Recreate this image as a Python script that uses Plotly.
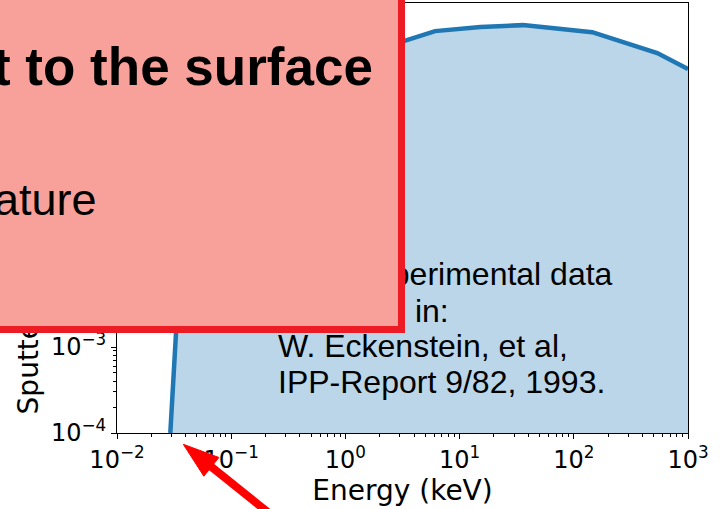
import plotly.graph_objects as go

# ---- data ----
energy_keV = [0.0293, 0.0320, 0.0330, 0.040, 0.060, 0.10, 0.30, 1.0, 3.36, 6.1, 15.2, 35.9, 145.0, 538.0, 1000.0]
yield_vals = [1.0e-4, 1.0e-3, 1.6e-3, 0.02, 0.10, 0.30, 1.0, 2.2, 3.63, 4.71, 5.25, 5.53, 4.58, 2.62, 1.71]

x_tick_exp = [-2, -1, 0, 1, 2, 3]
y_tick_exp = [-4, -3, -2, -1, 0, 1]

citation_lines = ["Fit to experimental data", "compiled in:", "W. Eckenstein, et al,", "IPP-Report 9/82, 1993."]
box_line1 = "t to the surface"
box_line2 = "ature"

# ---- layout geometry (pixels) ----
W, H = 720, 509
ML, MR, MT, MB = 117, 32, 3, 76
PW, PH = W - ML - MR, H - MT - MB


def px(xpix):
    return (xpix - ML) / PW


def py(ypix):
    return (H - MB - ypix) / PH


def sup_label(e):
    s = str(e).replace("-", "\u2212")
    return f"10<sup>{s}</sup>"


def minor_vals(exps):
    return [m * 10.0 ** e for e in exps[:-1] for m in range(2, 10)]


fig = go.Figure()
fig.add_trace(go.Scatter(
    x=energy_keV, y=yield_vals, mode="lines",
    line=dict(color="#1f77b4", width=4.5),
    fill="tozeroy", fillcolor="rgba(31,119,180,0.3)",
    showlegend=False, hoverinfo="skip",
))

tick_font = dict(family="DejaVu Sans", size=24, color="black")
title_font = dict(family="DejaVu Sans", size=28, color="black")

axis_common = dict(
    type="log", showgrid=False, zeroline=False,
    showline=True, linecolor="black", linewidth=1, mirror=True,
    ticks="outside", ticklen=5, tickwidth=1, tickcolor="black",
    tickfont=tick_font,
)

fig.update_xaxes(
    **axis_common,
    range=[x_tick_exp[0], x_tick_exp[-1]],
    tickmode="array",
    tickvals=[10.0 ** e for e in x_tick_exp],
    ticktext=[sup_label(e) for e in x_tick_exp],
    minor=dict(ticks="outside", ticklen=3, tickwidth=1, tickcolor="black",
               tickmode="array", tickvals=minor_vals(x_tick_exp)),
    title=dict(text="Energy (keV)", font=title_font, standoff=2),
)
fig.update_yaxes(
    **axis_common,
    range=[y_tick_exp[0], y_tick_exp[-1]],
    tickmode="array",
    tickvals=[10.0 ** e for e in y_tick_exp],
    ticktext=[sup_label(e) for e in y_tick_exp],
    minor=dict(ticks="outside", ticklen=3, tickwidth=1, tickcolor="black",
               tickmode="array", tickvals=minor_vals(y_tick_exp)),
    title=dict(text="Sputtering Yield (atoms/ion)", font=title_font, standoff=4),
)

annotations = []
# citation text (drawn first so the box covers it)
cite_font = dict(family="Liberation Sans, Arial", size=32, color="black")
for line, ycen in zip(citation_lines, [273.9, 310.6, 345.9, 381.6]):
    annotations.append(dict(
        xref="paper", yref="paper", x=px(277), y=py(ycen),
        xanchor="left", yanchor="middle", text=line, showarrow=False,
        font=cite_font, borderpad=0,
    ))

# overlay box
box_right, box_bottom, bw = 405, 333, 7
outer_w, outer_h = 435, 355
annotations.append(dict(
    xref="paper", yref="paper", x=px(box_right), y=py(box_bottom),
    xanchor="right", yanchor="bottom", text=" ", showarrow=False,
    width=outer_w - 2 * bw, height=outer_h - 2 * bw,
    bgcolor="#F8A19A", bordercolor="#ED1C24", borderwidth=bw, borderpad=0,
))
annotations.append(dict(
    xref="paper", yref="paper", x=px(374), y=py(85 - 0.3465 * 53),
    xanchor="right", yanchor="middle", text=f"<b>{box_line1}</b>", showarrow=False,
    font=dict(family="Liberation Sans, Arial", size=53, color="black"), borderpad=0,
))
annotations.append(dict(
    xref="paper", yref="paper", x=px(98), y=py(215 - 0.3465 * 45),
    xanchor="right", yanchor="middle", text=box_line2, showarrow=False,
    font=dict(family="Liberation Sans, Arial", size=45, color="black"), borderpad=0,
))

# red arrow (decoration) built as shapes in paper space
tip = (183.3, 444.3)
dvec = (0.780, 0.626)
nvec = (-0.626, 0.780)
head_len, head_half = 36, 12
base = (tip[0] + head_len * dvec[0], tip[1] + head_len * dvec[1])
c1 = (base[0] + head_half * nvec[0], base[1] + head_half * nvec[1])
c2 = (base[0] - head_half * nvec[0], base[1] - head_half * nvec[1])
shaft_start = (tip[0] + (head_len - 4) * dvec[0], tip[1] + (head_len - 4) * dvec[1])
tail = (tip[0] + 140 * dvec[0], tip[1] + 140 * dvec[1])


def pt(p):
    return f"{px(p[0])},{py(p[1])}"


shapes = [
    dict(type="path", xref="paper", yref="paper", layer="above",
         path=f"M{pt(tip)} L{pt(c1)} L{pt(c2)} Z",
         fillcolor="#FF0000", line=dict(color="#FF0000", width=1)),
    dict(type="line", xref="paper", yref="paper", layer="above",
         x0=px(shaft_start[0]), y0=py(shaft_start[1]), x1=px(tail[0]), y1=py(tail[1]),
         line=dict(color="#FF0000", width=8)),
]

fig.update_layout(
    width=W, height=H,
    margin=dict(l=ML, r=MR, t=MT, b=MB),
    paper_bgcolor="white", plot_bgcolor="white",
    annotations=annotations,
    shapes=shapes,
    showlegend=False,
)

fig.write_html("out.html", config={"displayModeBar": False})
